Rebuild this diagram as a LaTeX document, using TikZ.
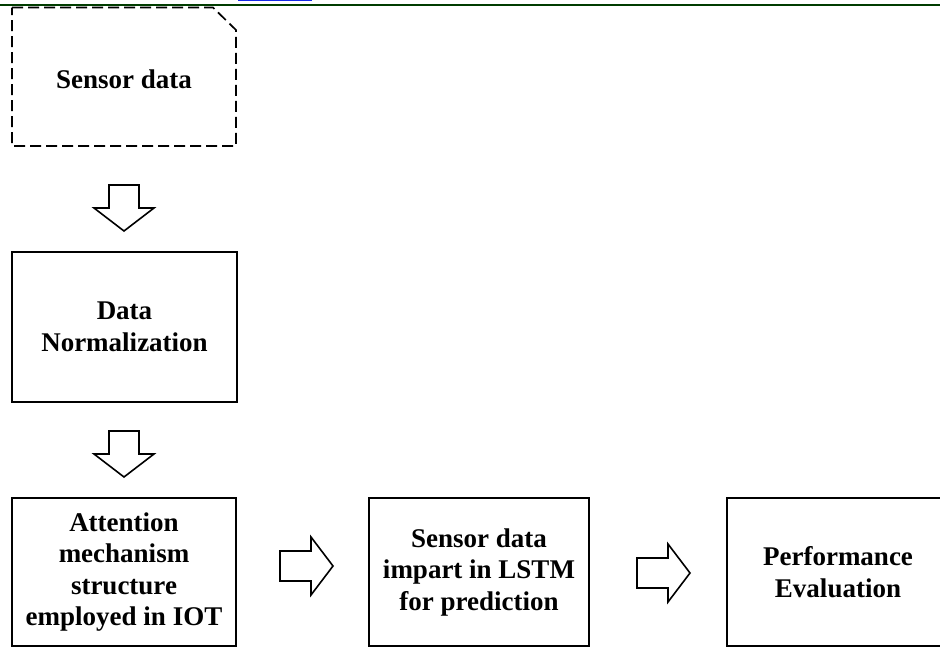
\documentclass[tikz,border=0pt]{standalone}
\usepackage{fontspec}
\setmainfont{Liberation Serif}
\definecolor{rulegreen}{RGB}{0,60,0}
\definecolor{linkblue}{RGB}{20,40,230}
\begin{document}
\begin{tikzpicture}[x=1pt,y=-1pt,
  box/.style={draw=black, line width=1.7pt, align=center, inner sep=0pt,
    font=\fontsize{27}{31.5}\selectfont\bfseries},
  blk/.style={draw=black, line width=1.6pt, line join=miter, fill=white},
  downarrow/.pic={\draw[blk] (-15,0) -- (15,0) -- (15,23) -- (30,23) -- (0,46) -- (-30,23) -- (-15,23) -- cycle;},
  rightarrow/.pic={\draw[blk] (0,-15) -- (31,-15) -- (31,-29) -- (53,0) -- (31,29) -- (31,15) -- (0,15) -- cycle;}
]
\useasboundingbox (0,0) rectangle (940,648);
% top rule and cut link
\draw[rulegreen, line width=2pt] (0,5) -- (940,5);
\fill[linkblue] (238,0) rectangle (312,1.3);

% Sensor data (dashed, clipped corner)
\draw[line width=1.7pt, dash pattern=on 11pt off 5pt]
  (12,7.5) -- (213,7.5) -- (236,30) -- (236,146) -- (12,146) -- cycle;
\node[font=\fontsize{27}{31.5}\selectfont\bfseries] (sensor) at (124,79) {Sensor data};

\node[box, minimum width=225pt, minimum height=150pt] (norm) at (124.5,327) {Data\\Normalization};
\node[box, minimum width=224pt, minimum height=148pt] (attn) at (124,572) {Attention\\mechanism\\structure\\employed in IOT};
\node[box, minimum width=220pt, minimum height=148pt] (lstm) at (479,572) {Sensor data\\impart in LSTM\\for prediction};
\node[box, minimum width=222pt, minimum height=148pt] (perf) at (838,572) {Performance\\Evaluation};

% block arrows
\pic at (124,185) {downarrow};
\pic at (124,431) {downarrow};
\pic at (280,566) {rightarrow};
\pic at (637,573) {rightarrow};
\end{tikzpicture}
\end{document}
